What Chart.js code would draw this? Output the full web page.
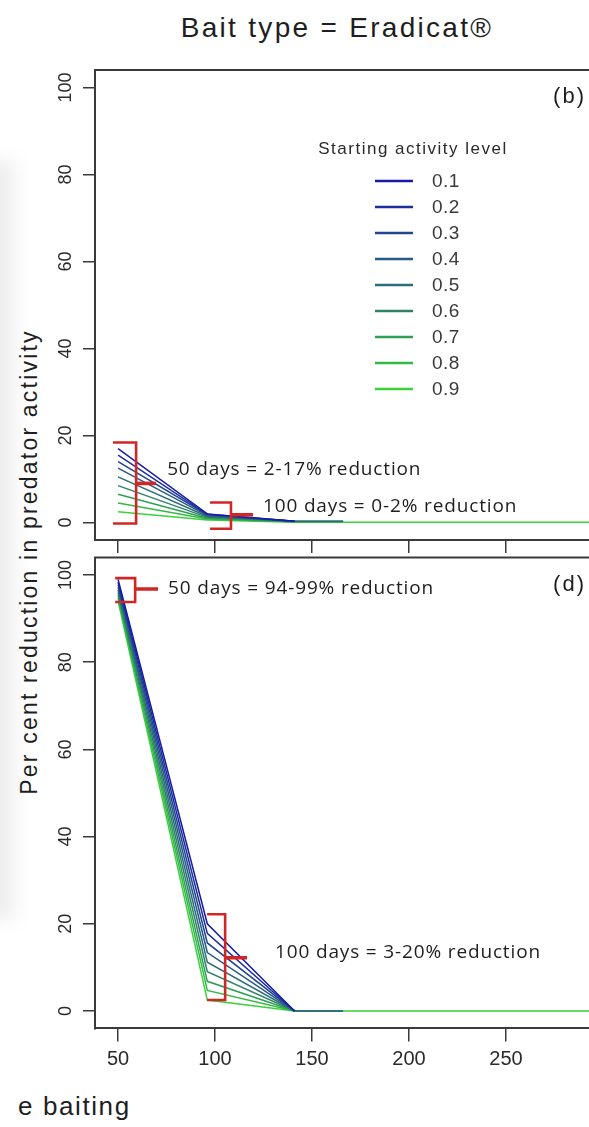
<!DOCTYPE html>
<html lang="en">
<head>
    <meta charset="UTF-8">
    <meta name="viewport" content="width=device-width, initial-scale=1.0">
    <title>Bait type = Eradicat®</title>
    <script src="https://cdn.jsdelivr.net/npm/chart.js"></script>
    <style>
        body {
            margin: 0;
            padding: 0;
            background: #ffffff;
            overflow: hidden;
            font-family: "Liberation Sans", Arial, sans-serif;
            color: #1e1e1e;
        }

        .page {
            position: relative;
            width: 589px;
            height: 1127px;
            overflow: hidden;
        }

        /* soft grey band on the far left of the scan */
        .shadow {
            position: absolute;
            left: -10px;
            top: 160px;
            width: 36px;
            height: 760px;
            background: linear-gradient(to right, rgba(0,0,0,0.10), rgba(0,0,0,0));
            filter: blur(8px);
        }

        .title {
            position: absolute;
            left: 337px;
            top: 12px;
            transform: translateX(-50%);
            font-size: 28px;
            letter-spacing: 2.3px;
            white-space: nowrap;
        }

        .ytitle {
            position: absolute;
            left: 29px;
            top: 562px;
            transform: translate(-50%, -50%) rotate(-90deg);
            font-size: 23px;
            letter-spacing: 2.2px;
            white-space: nowrap;
        }

        .xtitle {
            position: absolute;
            left: 18px;
            top: 1091px;
            font-size: 26px;
            letter-spacing: 1.6px;
            white-space: nowrap;
        }

        .panel {
            position: absolute;
            left: 0;
        }
    </style>
</head>
<body>
<div class="page">
    <div class="shadow"></div>
    <div class="title">Bait type = Eradicat®</div>
    <div class="ytitle">Per cent reduction in predator activity</div>
    <div class="xtitle">e baiting</div>

    <div class="panel" style="top:0px;">
        <canvas id="panelB" width="589" height="556"></canvas>
    </div>
    <div class="panel" style="top:540px;">
        <canvas id="panelD" width="589" height="587"></canvas>
    </div>
</div>

<script>
    // Starting activity levels and their line colours
    const levels = ['0.1', '0.2', '0.3', '0.4', '0.5', '0.6', '0.7', '0.8', '0.9'];
    const levelColors = ['#1a1aa6', '#1c2e9e', '#224592', '#275a86', '#2b6e79', '#2f836a', '#2f9f55', '#33b946', '#39d23a'];

    // Days since baiting at which the curves bend
    const days = [50, 96, 141, 166, 300];

    // (b) per cent reduction, one row per starting level (null = curve ended)
    const reductionB = [
        [17.0, 2.0, 0.3, null, null],
        [15.5, 1.9, 0.3, null, null],
        [14.0, 1.8, 0.3, null, null],
        [12.5, 1.6, 0.3, null, null],
        [10.5, 1.4, 0.3, 0.3, null],
        [8.5, 1.2, 0.3, 0.3, null],
        [6.5, 1.0, 0.2, 0.2, null],
        [4.5, 0.8, 0.2, 0.2, null],
        [2.5, 0.6, 0.1, 0.1, 0.1]
    ];

    // (d) per cent reduction
    const reductionD = [
        [99.0, 20.0, 0, null, null],
        [98.4, 17.8, 0, null, null],
        [97.8, 15.6, 0, null, null],
        [97.2, 13.4, 0, null, null],
        [96.6, 11.2, 0, 0, null],
        [96.0, 9.0, 0, 0, null],
        [95.4, 6.8, 0, 0, null],
        [94.7, 4.7, 0, 0, null],
        [94.0, 2.5, 0, 0, 0]
    ];

    const xTicks = [50, 100, 150, 200, 250];
    const yTicks = [0, 20, 40, 60, 80, 100];

    // red brace marks: [left, spine, pointer end] days and [top, bottom, pointer] values
    const bracesB = [
        { x: [47.4, 59.3, 69.6], y: [18.4, -0.2, 9.0] },
        { x: [97.4, 108.2, 119.6], y: [4.6, -1.4, 1.8] }
    ];
    const bracesD = [
        { x: [48.5, 58.8, 70.6], y: [99.3, 93.8, 96.8] },
        { x: [95.9, 105.2, 116.5], y: [22.2, 2.5, 12.2] }
    ];

    function levelDatasets(rows) {
        return rows.map((row, i) => ({
            label: levels[i],
            isLevel: true,
            data: row.map((v, k) => ({ x: days[k], y: v })).filter(p => p.y !== null),
            borderColor: levelColors[i],
            borderWidth: 1.5,
            pointRadius: 0,
            tension: 0
        }));
    }

    function braceDatasets(braces) {
        const out = [];
        braces.forEach(b => {
            out.push({
                data: [
                    { x: b.x[0], y: b.y[0] }, { x: b.x[1], y: b.y[0] },
                    { x: b.x[1], y: b.y[1] }, { x: b.x[0], y: b.y[1] }
                ],
                borderColor: '#d12626', borderWidth: 2.6, pointRadius: 0, order: -1
            });
            out.push({
                data: [{ x: b.x[1], y: b.y[2] }, { x: b.x[2], y: b.y[2] }],
                borderColor: '#d12626', borderWidth: 3.6, pointRadius: 0, order: -1
            });
        });
        return out;
    }

    // frame top edge, rotated y labels, notes, panel letter and legend
    const panelDecor = {
        id: 'panelDecor',
        afterDraw(chart, args, opts) {
            const ctx = chart.ctx;
            const area = chart.chartArea;
            const xs = chart.scales.x;
            const ys = chart.scales.y;

            ctx.save();
            ctx.strokeStyle = '#3a3a3a';
            ctx.lineWidth = 2;
            ctx.beginPath();
            ctx.moveTo(area.left - 1, area.top);
            ctx.lineTo(area.right, area.top);
            ctx.stroke();

            ctx.fillStyle = '#2a2a2a';
            ctx.font = '18px "Liberation Sans", Arial, sans-serif';
            ctx.textAlign = 'center';
            ctx.textBaseline = 'middle';
            ys.ticks.forEach(t => {
                ctx.save();
                ctx.translate(66, ys.getPixelForValue(t.value));
                ctx.rotate(-Math.PI / 2);
                ctx.fillText(String(t.value), 0, 0);
                ctx.restore();
            });

            ctx.fillStyle = '#1e1e1e';
            ctx.font = '19px "Open Sans", "Noto Sans", sans-serif';
            ctx.letterSpacing = '0.85px';
            ctx.textAlign = 'left';
            opts.notes.forEach(n => {
                ctx.fillText(n.text, xs.getPixelForValue(n.x), ys.getPixelForValue(n.y));
            });

            ctx.font = '22px "Liberation Sans", Arial, sans-serif';
            ctx.letterSpacing = '2px';
            ctx.textAlign = 'right';
            ctx.fillText(opts.letter, 586, area.top + 27);

            if (opts.legend) {
                ctx.font = '17px "Liberation Sans", Arial, sans-serif';
                ctx.letterSpacing = '1.5px';
                ctx.textAlign = 'center';
                ctx.fillStyle = '#2a2a2a';
                ctx.fillText('Starting activity level', 413, 149);

                ctx.font = '19px "Liberation Sans", Arial, sans-serif';
                ctx.letterSpacing = '0.5px';
                ctx.textAlign = 'left';
                chart.data.datasets.filter(d => d.isLevel).forEach((d, i) => {
                    const y = 181 + i * 26;
                    ctx.strokeStyle = d.borderColor;
                    ctx.lineWidth = 2.5;
                    ctx.beginPath();
                    ctx.moveTo(375, y);
                    ctx.lineTo(413, y);
                    ctx.stroke();
                    ctx.fillStyle = '#3a3a3a';
                    ctx.fillText(d.label, 432, y + 1);
                });
            }
            ctx.restore();
        }
    };

    function makePanel(id, rows, braces, cfg) {
        const ctx = document.getElementById(id).getContext('2d');
        return new Chart(ctx, {
            type: 'line',
            data: { datasets: levelDatasets(rows).concat(braceDatasets(braces)) },
            options: {
                responsive: false,
                animation: false,
                layout: { padding: { top: cfg.top, left: 0, right: 0, bottom: 0 } },
                scales: {
                    x: {
                        type: 'linear',
                        min: 38.1,
                        max: 292.8,
                        afterBuildTicks: s => { s.ticks = xTicks.map(v => ({ value: v })); },
                        afterFit: s => { s.height = cfg.axisHeight; },
                        grid: { drawOnChartArea: false, drawTicks: true, tickLength: 13, color: '#3a3a3a', lineWidth: 1.5 },
                        border: { display: true, color: '#3a3a3a', width: 2 },
                        ticks: {
                            display: cfg.xLabels,
                            autoSkip: false,
                            maxRotation: 0,
                            padding: 6,
                            color: '#2a2a2a',
                            font: { family: '"Liberation Sans", Arial, sans-serif', size: 20 }
                        }
                    },
                    y: {
                        type: 'linear',
                        min: -4,
                        max: 104,
                        afterBuildTicks: s => { s.ticks = yTicks.map(v => ({ value: v })); },
                        afterFit: s => { s.width = 95; },
                        grid: { drawOnChartArea: false, drawTicks: true, tickLength: 12, color: '#3a3a3a', lineWidth: 1.5 },
                        border: { display: true, color: '#3a3a3a', width: 2 },
                        ticks: { display: false }
                    }
                },
                plugins: {
                    legend: { display: false },
                    tooltip: { enabled: false },
                    panelDecor: { notes: cfg.notes, letter: cfg.letter, legend: cfg.legend }
                }
            },
            plugins: [panelDecor]
        });
    }

    makePanel('panelB', reductionB, bracesB, {
        top: 70, axisHeight: 16, xLabels: false, letter: '(b)', legend: true,
        notes: [
            { text: '50 days = 2-17% reduction', x: 75.3, y: 12.2 },
            { text: '100 days = 0-2% reduction', x: 124.7, y: 3.7 }
        ]
    });

    makePanel('panelD', reductionD, bracesD, {
        top: 17.6, axisHeight: 98.6, xLabels: true, letter: '(d)', legend: false,
        notes: [
            { text: '50 days = 94-99% reduction', x: 75.8, y: 97.0 },
            { text: '100 days = 3-20% reduction', x: 130.9, y: 13.5 }
        ]
    });
</script>
</body>
</html>
